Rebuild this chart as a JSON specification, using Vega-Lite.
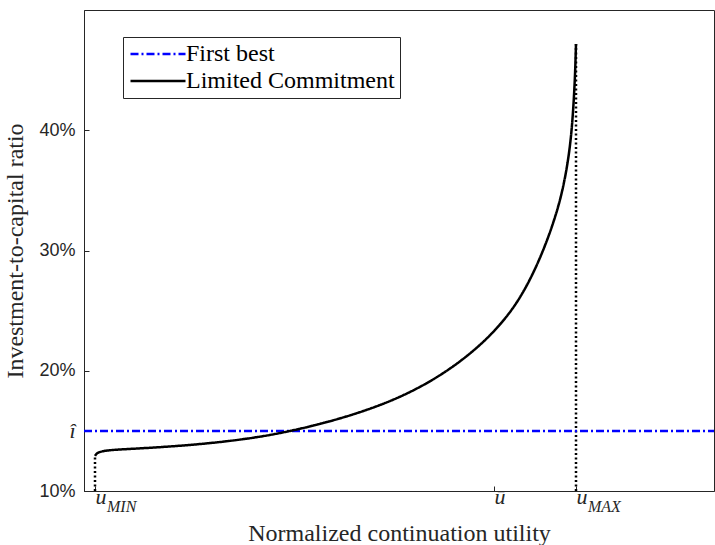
{
  "$schema": "https://vega.github.io/schema/vega-lite/v6.json",
  "width": 630,
  "height": 481,
  "autosize": {"type": "none"},
  "padding": {"left": 84, "top": 10, "right": 1, "bottom": 54},
  "background": "white",
  "config": {
    "view": {"stroke": "#262626", "strokeWidth": 1},
    "axis": {
      "domainColor": "#262626",
      "tickColor": "#262626",
      "labelColor": "#262626",
      "titleColor": "#262626",
      "grid": false,
      "tickSize": -5,
      "titleFont": "Liberation Serif",
      "titleFontWeight": "normal",
      "titleFontSize": 24
    }
  },
  "datasets": {
    "lines": [
      {"x": 0, "y": 15, "series": "First best"},
      {"x": 630, "y": 15, "series": "First best"},
      {"x": 11, "y": 12.92, "series": "Limited Commitment"},
      {"x": 12, "y": 13.05, "series": "Limited Commitment"},
      {"x": 14, "y": 13.2, "series": "Limited Commitment"},
      {"x": 18, "y": 13.3, "series": "Limited Commitment"},
      {"x": 24, "y": 13.38, "series": "Limited Commitment"},
      {"x": 33, "y": 13.44, "series": "Limited Commitment"},
      {"x": 46, "y": 13.5, "series": "Limited Commitment"},
      {"x": 66, "y": 13.59, "series": "Limited Commitment"},
      {"x": 100, "y": 13.78, "series": "Limited Commitment"},
      {"x": 126, "y": 13.98, "series": "Limited Commitment"},
      {"x": 150, "y": 14.2, "series": "Limited Commitment"},
      {"x": 180, "y": 14.55, "series": "Limited Commitment"},
      {"x": 207, "y": 15.0, "series": "Limited Commitment"},
      {"x": 233, "y": 15.5, "series": "Limited Commitment"},
      {"x": 267, "y": 16.28, "series": "Limited Commitment"},
      {"x": 300, "y": 17.25, "series": "Limited Commitment"},
      {"x": 320, "y": 17.98, "series": "Limited Commitment"},
      {"x": 336, "y": 18.65, "series": "Limited Commitment"},
      {"x": 349, "y": 19.26, "series": "Limited Commitment"},
      {"x": 366, "y": 20.16, "series": "Limited Commitment"},
      {"x": 383, "y": 21.21, "series": "Limited Commitment"},
      {"x": 400, "y": 22.43, "series": "Limited Commitment"},
      {"x": 416, "y": 23.8, "series": "Limited Commitment"},
      {"x": 433, "y": 25.6, "series": "Limited Commitment"},
      {"x": 449, "y": 28.0, "series": "Limited Commitment"},
      {"x": 463, "y": 30.75, "series": "Limited Commitment"},
      {"x": 473, "y": 33.23, "series": "Limited Commitment"},
      {"x": 479, "y": 35.15, "series": "Limited Commitment"},
      {"x": 484, "y": 37.4, "series": "Limited Commitment"},
      {"x": 487, "y": 39.4, "series": "Limited Commitment"},
      {"x": 489, "y": 41.4, "series": "Limited Commitment"},
      {"x": 491, "y": 44.3, "series": "Limited Commitment"},
      {"x": 492, "y": 47.17, "series": "Limited Commitment"}
    ],
    "dots": [
      {"x": 11, "y": 10, "id": "min"},
      {"x": 11, "y": 12.92, "id": "min"},
      {"x": 492, "y": 10, "id": "max"},
      {"x": 492, "y": 47.17, "id": "max"}
    ],
    "subs": [
      {"x": 11, "y": 10, "sub": "MIN"},
      {"x": 492, "y": 10, "sub": "MAX"}
    ]
  },
  "layer": [
    {
      "data": {"name": "dots"},
      "mark": {"type": "line", "color": "black", "strokeWidth": 2.5, "strokeDash": [2, 2.5]},
      "encoding": {
        "x": {"field": "x", "type": "quantitative", "scale": {"domain": [0, 630], "nice": false},
          "axis": {
            "values": [11, 410, 492],
            "labelExpr": "datum.value == 410 ? 'ū' : 'u'",
            "labelFont": "Liberation Serif",
            "labelFontStyle": "italic",
            "labelFontSize": 22,
            "labelAlign": "left",
            "labelBaseline": "alphabetic",
            "labelPadding": 17,
            "title": "Normalized continuation utility",
            "titleFont": "Liberation Serif",
            "titlePadding": 14
          }},
        "y": {"field": "y", "type": "quantitative", "scale": {"domain": [10, 50], "nice": false},
          "axis": {
            "values": [10, 15, 20, 30, 40],
            "labelExpr": "datum.value == 15 ? 'î' : datum.value + '%'",
            "labelFont": {"condition": {"test": "datum.value == 15", "value": "Liberation Serif"}, "value": "Liberation Sans"},
            "labelFontStyle": {"condition": {"test": "datum.value == 15", "value": "italic"}, "value": "normal"},
            "labelFontSize": {"condition": {"test": "datum.value == 15", "value": 22}, "value": 18},
            "labelPadding": 14,
            "title": "Investment-to-capital ratio",
            "titleFont": "Liberation Serif",
            "titlePadding": 11
          }},
        "detail": {"field": "id"}
      }
    },
    {
      "data": {"name": "lines"},
      "mark": {"type": "line", "strokeWidth": 2.5, "interpolate": "basis"},
      "encoding": {
        "x": {"field": "x", "type": "quantitative"},
        "y": {"field": "y", "type": "quantitative"},
        "color": {"field": "series", "type": "nominal",
          "scale": {"domain": ["First best", "Limited Commitment"], "range": ["#0000FF", "#000000"]},
          "legend": {
            "title": null,
            "orient": "none",
            "legendX": 39,
            "legendY": 27,
            "strokeColor": "#262626",
            "fillColor": "white",
            "padding": 5,
            "labelFont": "Liberation Serif",
            "labelFontSize": 24,
            "labelColor": "black",
            "labelLimit": 400,
            "symbolType": "M-5.5,0H5.5",
            "symbolSize": 100,
            "symbolOffset": 18,
            "symbolStrokeWidth": 2.5,
            "rowPadding": 3,
            "labelOffset": 16
          }},
        "strokeDash": {"field": "series", "type": "nominal",
          "scale": {"domain": ["First best", "Limited Commitment"], "range": [[8, 3, 2, 3], [1, 0]]},
          "legend": null}
      }
    },
    {
      "data": {"name": "subs"},
      "mark": {"type": "text", "align": "left", "baseline": "alphabetic", "dx": 12, "dy": 21, "font": "Liberation Serif", "fontStyle": "italic", "fontSize": 16, "color": "#262626"},
      "encoding": {
        "x": {"field": "x", "type": "quantitative"},
        "y": {"field": "y", "type": "quantitative"},
        "text": {"field": "sub"}
      }
    }
  ]
}
